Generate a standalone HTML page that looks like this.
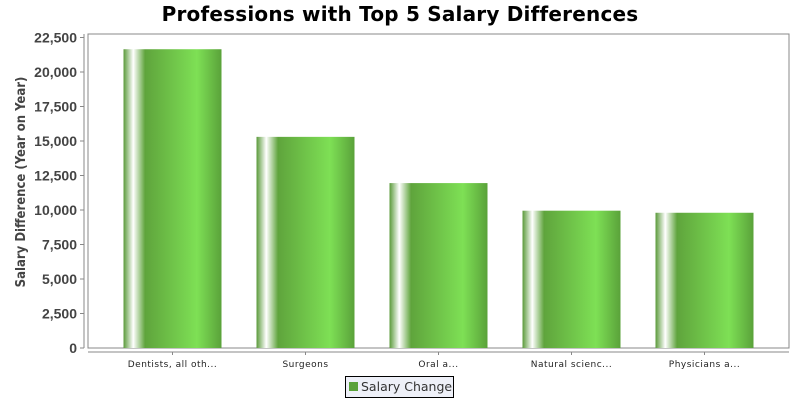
<!DOCTYPE html>
<html><head><meta charset="utf-8"><style>
body{margin:0;background:#fff;width:800px;height:400px;overflow:hidden;font-family:"Liberation Sans","DejaVu Sans",sans-serif}
</style></head><body>
<svg width="800" height="400">
<defs>
<linearGradient id="g" x1="0" x2="1" y1="0" y2="0">
<stop offset="0" stop-color="#5a9a3a"/>
<stop offset="0.1" stop-color="#ffffff"/>
<stop offset="0.22" stop-color="#5fa43c"/>
<stop offset="0.75" stop-color="#7ee055"/>
<stop offset="1" stop-color="#5aa23a"/>
</linearGradient>
</defs>
<text x="400" y="21" text-anchor="middle" font-size="20" font-weight="bold" fill="#000" font-family="DejaVu Sans, sans-serif" letter-spacing="0.2">Professions with Top 5 Salary Differences</text>
<rect x="88" y="34" width="701" height="314" fill="#fff" stroke="#888"/>
<line x1="84" y1="34" x2="84" y2="348" stroke="#888"/>
<line x1="88" y1="352" x2="789" y2="352" stroke="#888"/>
<g id="yt"></g><g id="bars"></g><g id="xt"></g>
<text transform="translate(25,182) rotate(-90)" text-anchor="middle" font-size="13" font-weight="bold" fill="#444" font-family="DejaVu Sans Condensed, DejaVu Sans, sans-serif">Salary Difference (Year on Year)</text>
<g>
<rect x="345.5" y="376.5" width="108" height="21" fill="#eef0f8" stroke="#000"/>
<rect x="349" y="382" width="9" height="9" fill="#5aa23a"/>
<text x="361" y="391" font-size="12.5" fill="#333" font-family="DejaVu Sans, sans-serif">Salary Change</text>
</g>
</svg>
<script>
const categories=["Dentists, all oth...","Surgeons","Oral a...","Natural scienc...","Physicians a..."];
const values=[21650,15300,11950,9950,9800];
const yTicks=[0,2500,5000,7500,10000,12500,15000,17500,20000,22500];
const NS="http://www.w3.org/2000/svg";
const y0=348,yScale=(348-37.5)/22500;
const yPos=v=>y0-v*yScale;
const left=88,right=789,margin=18,catW=(right-left-2*margin)/categories.length,barW=98;
const xCenter=i=>left+margin+catW*(i+0.5);
function mk(tag,attrs,parent){const e=document.createElementNS(NS,tag);for(const k in attrs)e.setAttribute(k,attrs[k]);parent.appendChild(e);return e;}
const yt=document.getElementById('yt');
yTicks.forEach(v=>{
 const l=mk('line',{x1:80,x2:84,y1:yPos(v),y2:yPos(v),stroke:'#888'},yt);
 
 
 const t=mk('text',{x:77,y:yPos(v)+5,'text-anchor':'end','font-size':'14','font-weight':'bold',fill:'#444'},yt);
 t.textContent=v.toLocaleString('en-US');
 
 
});
const bars=document.getElementById('bars'),xt=document.getElementById('xt');
values.forEach((v,i)=>{
 const r=mk('rect',{x:xCenter(i)-barW/2,y:yPos(v),width:barW,height:y0-yPos(v),fill:'url(#g)'},bars);
 
 
 const l=mk('line',{x1:xCenter(i),x2:xCenter(i),y1:352,y2:355,stroke:'#888'},xt);
 
 
 const t=mk('text',{x:xCenter(i),y:367,'text-anchor':'middle','font-size':'9','font-family':'DejaVu Sans, sans-serif',fill:'#222','letter-spacing':'0.5'},xt);
 t.textContent=categories[i];
 
 
});
</script>
</body></html>
